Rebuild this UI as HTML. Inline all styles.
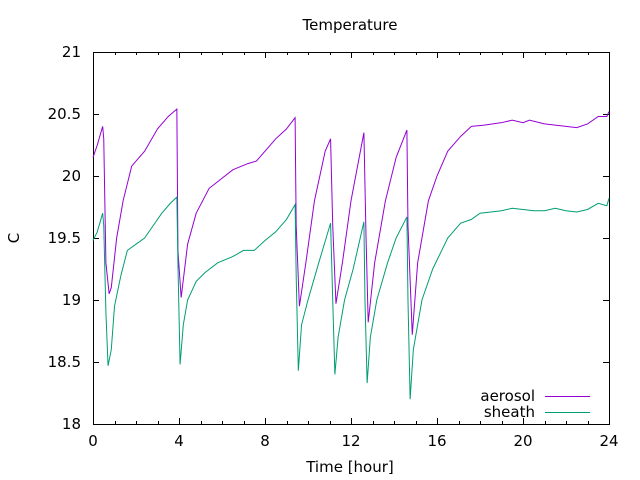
<!DOCTYPE html>
<html><head><meta charset="utf-8"><style>
html,body{margin:0;padding:0;background:#fff}
svg{display:block;font-family:"DejaVu Sans","Liberation Sans",sans-serif}
</style></head><body>
<svg width="640" height="480" viewBox="0 0 640 480" xmlns="http://www.w3.org/2000/svg">
<rect width="640" height="480" fill="#fff"/>
<g stroke="#000" stroke-width="1" fill="none">
<rect x="93.5" y="52.5" width="516" height="372"/>
<path d="M93 114.5h6M609 114.5h-6M93 176.5h6M609 176.5h-6M93 238.5h6M609 238.5h-6M93 300.5h6M609 300.5h-6M93 362.5h6M609 362.5h-6"/>
<path d="M179.5 424v-6M179.5 52v6M265.5 424v-6M265.5 52v6M351.5 424v-6M351.5 52v6M437.5 424v-6M437.5 52v6M523.5 424v-6M523.5 52v6"/>
<path d="M115.5 424v-3M136.5 424v-3M158.5 424v-3M201.5 424v-3M222.5 424v-3M244.5 424v-3M287.5 424v-3M308.5 424v-3M330.5 424v-3M373.5 424v-3M394.5 424v-3M416.5 424v-3M459.5 424v-3M480.5 424v-3M502.5 424v-3M545.5 424v-3M566.5 424v-3M588.5 424v-3
M115.5 52v3M136.5 52v3M158.5 52v3M201.5 52v3M222.5 52v3M244.5 52v3M287.5 52v3M308.5 52v3M330.5 52v3M373.5 52v3M394.5 52v3M416.5 52v3M459.5 52v3M480.5 52v3M502.5 52v3M545.5 52v3M566.5 52v3M588.5 52v3"/>
</g>
<g font-size="15" fill="#000" text-anchor="end">
<text x="81" y="57">21</text><text x="81" y="119">20.5</text><text x="81" y="181">20</text><text x="81" y="243">19.5</text><text x="81" y="305">19</text><text x="81" y="367">18.5</text><text x="81" y="429">18</text>
</g>
<g font-size="15" fill="#000" text-anchor="middle">
<text x="93" y="446">0</text><text x="179" y="446">4</text><text x="265" y="446">8</text><text x="351" y="446">12</text><text x="437" y="446">16</text><text x="523" y="446">20</text><text x="609" y="446">24</text>
<text x="350" y="472">Time [hour]</text>
<text x="350" y="30">Temperature</text>
<text x="19" y="238" transform="rotate(-90 19 238)">C</text>
</g>
<g font-size="15" fill="#000" text-anchor="end">
<text x="535" y="401">aerosol</text><text x="535" y="417">sheath</text>
</g>
<path d="M545 396.5h45" stroke="#9400d3"/>
<path d="M545 412.5h45" stroke="#009e73"/>
<g transform="translate(93,2656) scale(21.5,-124)" fill="none" stroke-width="1">
<polyline vector-effect="non-scaling-stroke" stroke="#9400d3" points="0,20.15 0.2,20.25 0.45,20.4 0.5,20.3 0.6,19.3 0.75,19.05 0.85,19.1 1.1,19.5 1.4,19.8 1.8,20.08 2.4,20.2 3,20.38 3.5,20.48 3.9,20.54 3.95,19.4 4.1,19.02 4.4,19.45 4.8,19.7 5.4,19.9 6.5,20.05 7.2,20.1 7.6,20.12 8.5,20.3 9,20.38 9.4,20.47 9.45,19.6 9.6,18.95 9.9,19.3 10.3,19.8 10.8,20.2 11.05,20.3 11.15,19.6 11.3,18.97 11.6,19.3 12,19.8 12.6,20.35 12.7,19.5 12.8,18.82 13.1,19.3 13.6,19.8 14.1,20.15 14.6,20.37 14.65,19.6 14.85,18.72 15.1,19.3 15.6,19.8 16,20.0 16.5,20.2 17.1,20.32 17.6,20.4 18.2,20.41 19,20.43 19.5,20.45 20,20.43 20.3,20.45 21,20.42 22,20.4 22.5,20.39 23,20.42 23.5,20.48 23.9,20.48 24,20.52"/>
<polyline vector-effect="non-scaling-stroke" stroke="#009e73" points="0,19.48 0.2,19.55 0.45,19.7 0.5,19.6 0.6,18.9 0.7,18.47 0.85,18.6 1.0,18.95 1.3,19.2 1.6,19.4 2,19.45 2.4,19.5 2.8,19.6 3.2,19.7 3.6,19.78 3.9,19.83 3.95,19.3 4.05,18.48 4.2,18.8 4.4,19.0 4.8,19.15 5.2,19.22 5.8,19.3 6.5,19.35 7,19.4 7.5,19.4 8,19.48 8.5,19.55 9,19.65 9.4,19.77 9.45,19.2 9.55,18.43 9.7,18.8 10,19.0 10.5,19.3 11.05,19.62 11.15,19.0 11.25,18.4 11.4,18.7 11.7,19.0 12.1,19.25 12.6,19.63 12.65,19.0 12.75,18.33 12.9,18.7 13.2,19.0 13.7,19.3 14.1,19.5 14.6,19.67 14.65,19.0 14.75,18.2 14.9,18.6 15.3,19.0 15.8,19.25 16.5,19.5 17.1,19.62 17.6,19.65 18,19.7 19,19.72 19.5,19.74 20,19.73 20.5,19.72 21,19.72 21.5,19.74 22,19.72 22.5,19.71 23,19.73 23.5,19.78 23.9,19.76 24,19.82"/>
</g>
</svg>
</body></html>
